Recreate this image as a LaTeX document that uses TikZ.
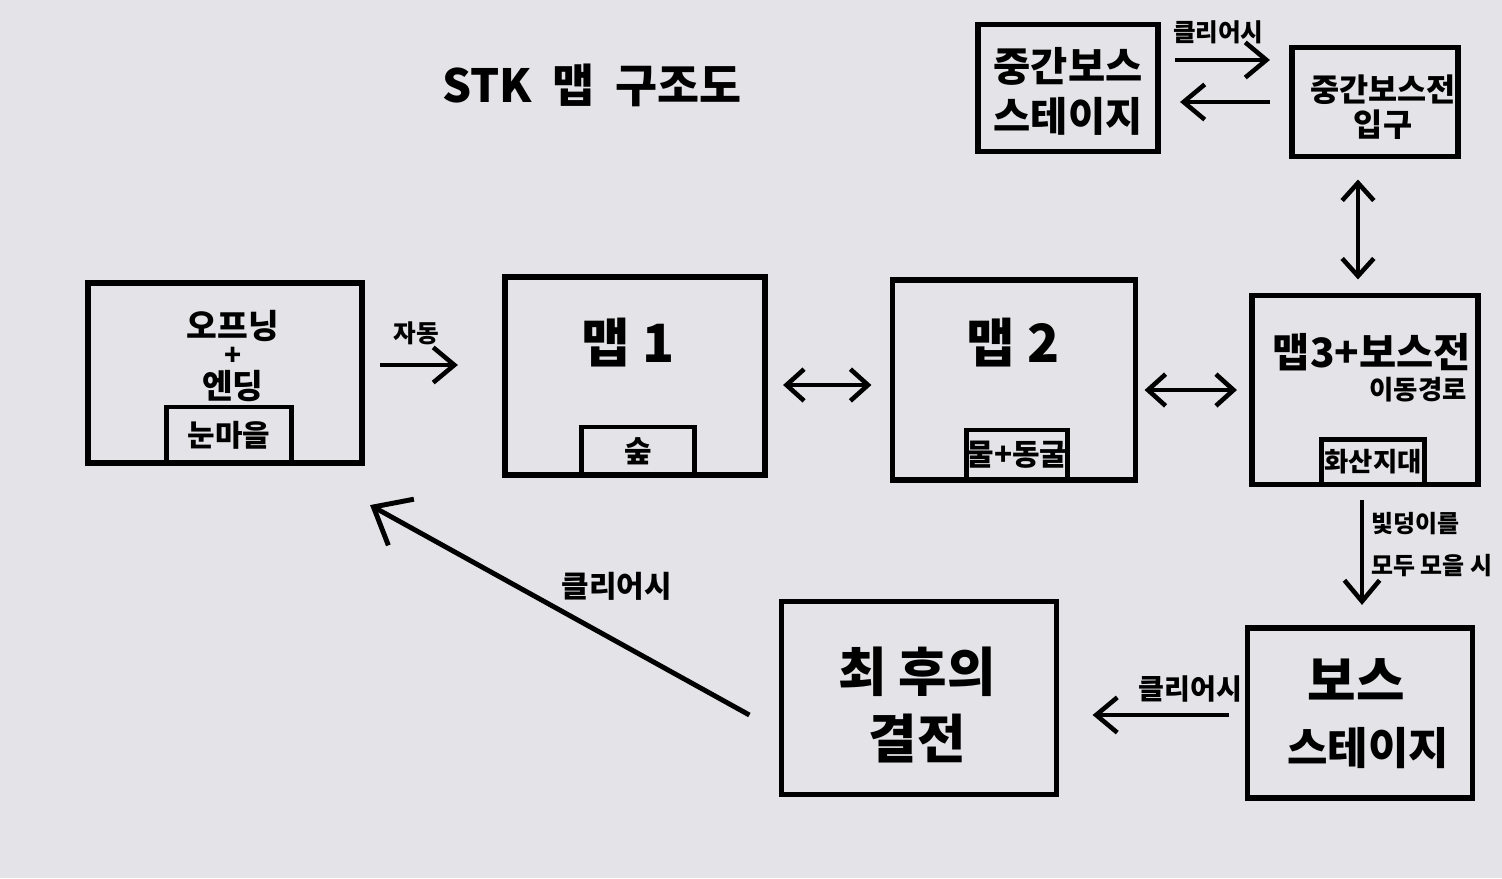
\documentclass[tikz,border=0pt]{standalone}
\usepackage{fontspec}
\setmainfont{Noto Sans CJK KR}
\usetikzlibrary{arrows.meta,positioning}
\definecolor{paper}{RGB}{228,228,232}
\tikzset{
  mapbox/.style={draw=black,line width=1.6pt,inner sep=0pt,outer sep=0pt},
  subbox/.style={draw=black,line width=1.3pt,inner sep=0pt,outer sep=0pt,
    font=\fontsize{8.5}{9}\selectfont\bfseries},
  flow/.style={line width=1.3pt,-{Straight Barb[length=6pt,width=10pt]}},
  both/.style={line width=1.3pt,{Straight Barb[length=5pt,width=9pt]}-{Straight Barb[length=5pt,width=9pt]}},
  hand/.style={font=\fontsize{#1}{#1}\selectfont\bfseries,align=center,inner sep=1pt},
}

\begin{document}
\begin{tikzpicture}[x=0.01cm,y=-0.01cm]
    % paper
    \fill[paper] (0,0) rectangle (1502,878);
    \useasboundingbox (0,0) rectangle (1502,878);
    % title
    \node[hand=13] (title) at (592,85) {STK\ \ 맵\ \ 구조도};
    % boxes
    \node[mapbox,minimum width=2.74cm,minimum height=1.80cm] (open) at (225,373) {};
    \node[mapbox,minimum width=2.60cm,minimum height=1.98cm] (map1) at (635,376) {};
    \node[mapbox,minimum width=2.43cm,minimum height=2.00cm] (map2) at (1014,380) {};
    \node[mapbox,minimum width=2.26cm,minimum height=1.89cm] (map3) at (1365,390) {};
    \node[mapbox,minimum width=1.80cm,minimum height=1.27cm] (midstage) at (1068,88) {};
    \node[mapbox,minimum width=1.66cm,minimum height=1.09cm] (midgate) at (1375,102) {};
    \node[mapbox,minimum width=2.25cm,minimum height=1.70cm] (boss) at (1360,713) {};
    \node[mapbox,minimum width=2.75cm,minimum height=1.93cm] (final) at (919,698) {};
    % inner areas
    \node[subbox,minimum width=1.25cm,minimum height=0.56cm] (snow) at (229,435) {눈마을};
    \node[subbox,minimum width=1.13cm,minimum height=0.48cm] (forest) at (638,451) {숲};
    \node[subbox,minimum width=0.99cm,minimum height=0.50cm] (cave) at (1017,455) {물+동굴};
    \node[subbox,minimum width=1.03cm,minimum height=0.45cm,font=\fontsize{7.5}{8}\selectfont\bfseries] (volcano) at (1373,462) {화산지대};
    % box texts
    \node[hand=9.5,inner sep=0pt] (opentxt) at (233,326) {오프닝};
    \node[hand=8,inner sep=0pt] (openplus) at (233,356) {+};
    \node[hand=9.5,inner sep=0pt] (endtxt) at (233,386) {엔딩};
    \node[hand=15] (map1txt) at (628,343) {맵 1};
    \node[hand=15] (map2txt) at (1013,343) {맵 2};
    \node[hand=11.5] (map3txt) at (1372,352) {맵3+보스전};
    \node[hand=7.5] (map3sub) at (1418,390) {이동경로};
    \node[hand=11.5] (midstagetxt) at (1068,66) {중간보스};
    \node[hand=11.5] (midstagesub) at (1068,116) {스테이지};
    \node[hand=9] (midgatetxt) at (1383,90) {중간보스전};
    \node[hand=9] (midgatesub) at (1383,125) {입구};
    \node[hand=15] (bosstxt) at (1356,680) {보스};
    \node[hand=12.5] (bosssub) at (1368,748) {스테이지};
    \node[hand=15] (finaltxt) at (917,672) {최 후의};
    \node[hand=15] (finalsub) at (917,738) {결전};
    % connectors
    \draw[flow,shorten <=0.18cm,shorten >=0.47cm] ([yshift=.08cm]open.east) -- ([yshift=.08cm]open.east -| map1.west)
        node[pos=.38,above=4pt,hand=7] (autolbl) {자동};
    \draw[both,shorten <=0.18cm,shorten >=0.21cm] ([yshift=-.09cm]map1.east) -- ([yshift=-.09cm]map1.east -| map2.west);
    \draw[both,shorten <=0.09cm,shorten >=0.15cm] ([yshift=-.10cm]map2.east) -- ([yshift=-.10cm]map2.east -| map3.west);
    \draw[both,shorten <=0.23cm,shorten >=0.16cm] ([xshift=-.17cm]midgate.south) -- ([xshift=-.17cm]midgate.south |- map3.north);
    \draw[flow,shorten <=0.17cm,shorten >=0.22cm] ([yshift=.28cm]midstage.east) -- ([yshift=.28cm]midstage.east -| midgate.west)
        node[pos=.45,above=3pt,hand=7] (clear1) {클리어시};
    \draw[flow,shorten <=0.22cm,shorten >=0.22cm] ([yshift=-.14cm]midstage.east -| midgate.west) -- ([yshift=-.14cm]midstage.east);
    \draw[flow,shorten <=0.15cm,shorten >=0.23cm] ([xshift=-.03cm]map3.south) -- ([xshift=-.03cm]map3.south |- boss.north)
        node[pos=.42,right=1pt,hand=6.8,align=left] (lightlbl) {빛덩이를\\[5pt]모두 모을 시};
    \draw[flow,shorten <=0.18cm,shorten >=0.36cm] ([yshift=-.02cm]boss.west) -- ([yshift=-.02cm]boss.west -| final.east)
        node[pos=.3,above=2pt,hand=8] (clear2) {클리어시};
    \draw[line width=1.4pt,-{Straight Barb[length=9pt,width=15pt]}] ([xshift=-.32cm,yshift=-.17cm]final.west) -- ([xshift=.08cm,yshift=-.42cm]open.south east)
        node[pos=.35,above=10pt,hand=8.5] (clear3) {클리어시};
\end{tikzpicture}
\end{document}
